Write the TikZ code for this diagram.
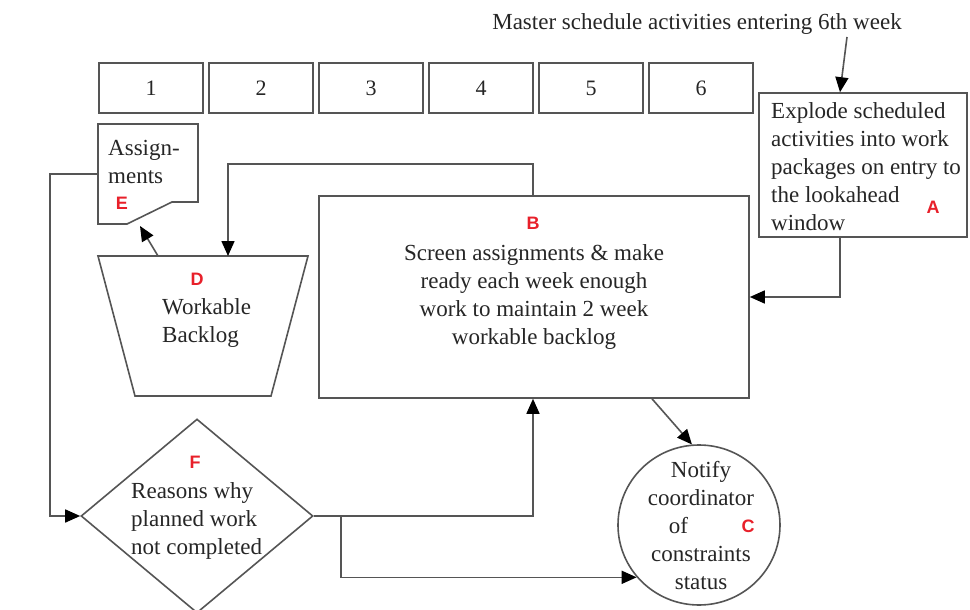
\documentclass[tikz,border=0pt]{standalone}
\usepackage{fontspec}
\setmainfont{Liberation Serif}
\newfontfamily\tagfont{Liberation Sans}
\usetikzlibrary{shapes.geometric,arrows.meta}
\definecolor{linegray}{HTML}{555555}
\definecolor{textgray}{HTML}{262626}
\definecolor{tagred}{HTML}{E8202A}
\begin{document}
\begin{tikzpicture}[x=1pt,y=-1pt,
  line/.style={draw=linegray, line width=1.6pt},
  arr/.style={line, -{Triangle[length=15pt,width=13pt,color=black]}},
  txt/.style={text=textgray, font=\fontsize{23}{28}\selectfont, inner sep=0pt},
  tag/.style={text=tagred, font=\tagfont\bfseries\fontsize{18}{18}\selectfont, inner sep=0pt},
  week/.style={line, minimum width=104pt, minimum height=50pt, inner sep=0pt,
    text=textgray, font=\fontsize{22}{22}\selectfont}]
\fill[white] (0,0) rectangle (970,610);
\useasboundingbox (0,0) rectangle (970,610);

% heading and the six-week lookahead window
\node[txt] (title) at (697,24) {Master schedule activities entering 6th week};
\foreach \i in {1,...,6}
  \node[week] (w\i) at ({151+110*(\i-1)},88) {\i};

% A: explode activities
\node[line, minimum width=208pt, minimum height=144pt, inner sep=0pt] (A) at (863,165) {};
\node[txt, align=left, anchor=west] (Atext) at (771,167)
  {Explode scheduled\\activities into work\\packages on entry to\\the lookahead\\window};
\node[tag] (Atag) at (933,207) {A};

% B: screening and make ready
\node[line, minimum width=430pt, minimum height=202pt, inner sep=0pt, txt, align=center] (B) at (534,297)
  {Screen assignments \& make\\ready each week enough\\work to maintain 2 week\\workable backlog};
\node[tag] (Btag) at (533,223) {B};

% C: notify coordinator
\node[line, ellipse, minimum width=162pt, minimum height=160pt, inner sep=0pt] (C) at (699,525) {};
\node[txt, align=center] (Ctext) at (701,526)
  {Notify\\coordinator\\\hspace*{-45pt}of\\constraints\\status};
\node[tag] (Ctag) at (748,526) {C};

% D: workable backlog
\coordinate (D1) at (98,256);
\coordinate (D2) at (308,256);
\coordinate (D3) at (271,396);
\coordinate (D4) at (135,396);
\draw[line, line join=miter] (D1) -- (D2) -- (D3) -- (D4) -- cycle;
\coordinate (Din) at (228,256);
\coordinate (Dout) at (158,256);
\node[txt, align=left, anchor=west] (Dtext) at (162,323) {Workable\\Backlog};
\node[tag] (Dtag) at (197,279) {D};

% E: assignments document
\coordinate (E1) at (98,124);
\coordinate (E2) at (198,124);
\coordinate (E3) at (198,202);
\coordinate (E4) at (172,202);
\coordinate (E5) at (127,224);
\coordinate (E6) at (98,224);
\draw[line, line join=miter] (E1) -- (E2) -- (E3) -- (E4) -- (E5) -- (E6) -- cycle;
\coordinate (Ein) at (140,226);
\coordinate (Eout) at (98,174);
\node[txt, align=left, anchor=west] (Etext) at (108,162) {Assign-\\ments};
\node[tag] (Etag) at (122,203) {E};

% F: reasons for non-completion
\node[line, diamond, aspect=1.196, minimum width=232pt, minimum height=194pt, inner sep=0pt] (F) at (197,516) {};
\node[txt, align=left, anchor=west] (Ftext) at (131,521)
  {Reasons why\\planned work\\not completed};
\node[tag] (Ftag) at (195,462) {F};

% connectors
\coordinate (mtop) at (847,37);
\draw[arr] (mtop) -- ([xshift=-23pt]A.north);
\draw[arr] ([xshift=-23pt]A.south) |- (B.east);
\draw[arr] ([xshift=-1pt]B.north) -- ++(0,-31) -| (Din);
\draw[arr] (Dout) -- (Ein);
\draw[arr] (Eout) -- (50,174) |- (F.west);
\draw[arr] (F.east) -| ([xshift=-1pt]B.south);
\coordinate (Fsplit) at ([xshift=27pt]F.east);
\draw[arr] (Fsplit) |- (C.220);
\draw[arr] ([xshift=118pt]B.south) -- (C.95);
\end{tikzpicture}
\end{document}
